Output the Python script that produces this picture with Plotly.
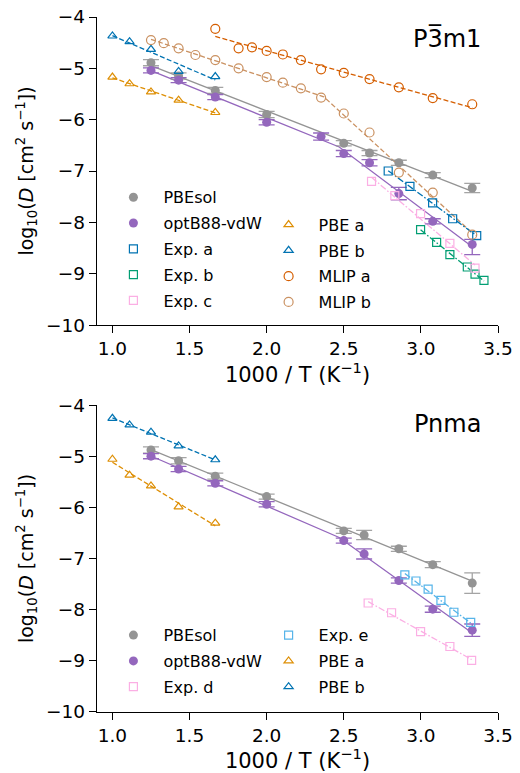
import numpy as np
import plotly.graph_objects as go

# ---------------- data: P-3m1 (top panel) ----------------
pbesol_t_x = [1.25, 1.429, 1.667, 2.0, 2.5, 2.667, 2.857, 3.077, 3.333]
pbesol_t_y = [-4.89, -5.15, -5.43, -5.90, -6.46, -6.65, -6.84, -7.08, -7.33]
pbesol_t_e = [0.06, 0.06, 0.06, 0.06, 0.05, 0.05, 0.05, 0.05, 0.09]

optb_t_x = [1.25, 1.429, 1.667, 2.0, 2.353, 2.5, 2.667, 2.857, 3.077, 3.333]
optb_t_y = [-5.04, -5.23, -5.56, -6.05, -6.33, -6.66, -6.84, -7.44, -7.98, -8.43]
optb_t_eu = [0.05, 0.05, 0.05, 0.05, 0.07, 0.06, 0.06, 0.12, 0.05, 0.10]
optb_t_ed = [0.05, 0.05, 0.05, 0.05, 0.07, 0.06, 0.06, 0.12, 0.05, 0.20]
optb_t_split = 5  # first index of low-temperature regime

pbe_x = [1.0, 1.111, 1.25, 1.429, 1.667]
pbe_a_t_y = [-5.17, -5.30, -5.46, -5.62, -5.86]
pbe_b_t_y = [-4.37, -4.48, -4.63, -5.06, -5.16]

mlip_a_x = [1.667, 1.818, 1.905, 2.0, 2.105, 2.222, 2.353, 2.5, 2.667, 2.857, 3.077, 3.333]
mlip_a_y = [-4.23, -4.61, -4.59, -4.66, -4.73, -4.84, -5.02, -5.09, -5.21, -5.37, -5.58, -5.70]

mlip_b_x = [1.25, 1.333, 1.429, 1.538, 1.667, 1.818, 2.0, 2.105, 2.222, 2.353,
            2.5, 2.667, 2.857, 3.077, 3.333]
mlip_b_y = [-4.45, -4.51, -4.61, -4.74, -4.84, -5.00, -5.17, -5.28, -5.39, -5.57,
            -5.88, -6.25, -7.03, -7.42, -8.24]
mlip_b_split = 9

exp_a_x = [2.788, 2.929, 3.076, 3.206, 3.362]
exp_a_y = [-7.00, -7.30, -7.62, -7.93, -8.26]
exp_b_x = [2.998, 3.102, 3.188, 3.301, 3.351, 3.409]
exp_b_y = [-8.14, -8.39, -8.63, -8.87, -9.01, -9.13]
exp_c_x = [2.680, 2.831, 2.998, 3.188, 3.351]
exp_c_y = [-7.20, -7.48, -7.83, -8.41, -8.89]

# ---------------- data: Pnma (bottom panel) ----------------
pbesol_b_x = [1.25, 1.429, 1.667, 2.0, 2.5, 2.632, 2.857, 3.077, 3.333]
pbesol_b_y = [-4.88, -5.09, -5.39, -5.79, -6.46, -6.54, -6.81, -7.12, -7.48]
pbesol_b_e = [0.06, 0.06, 0.06, 0.05, 0.05, 0.09, 0.05, 0.06, 0.20]

optb_b_x = [1.25, 1.429, 1.667, 2.0, 2.5, 2.632, 2.857, 3.077, 3.333]
optb_b_y = [-5.00, -5.25, -5.53, -5.94, -6.65, -6.91, -7.43, -7.99, -8.40]
optb_b_e = [0.05, 0.05, 0.05, 0.05, 0.05, 0.10, 0.05, 0.06, 0.12]
optb_b_split = 4

pbe_a_b_y = [-5.06, -5.37, -5.58, -5.99, -6.31]
pbe_b_b_y = [-4.26, -4.39, -4.53, -4.80, -5.07]

exp_d_x = [2.658, 2.810, 2.998, 3.188, 3.329]
exp_d_y = [-7.87, -8.06, -8.43, -8.72, -8.99]
exp_e_x = [2.896, 2.968, 3.047, 3.130, 3.214, 3.323]
exp_e_y = [-7.32, -7.44, -7.60, -7.82, -8.05, -8.25]

x_ticks = [1.0, 1.5, 2.0, 2.5, 3.0, 3.5]
y_ticks = [-10, -9, -8, -7, -6, -5, -4]

# ---------------- styles ----------------
GRAY = '#949494'
PURPLE = '#9467bd'
BLUE = '#0173B2'
ORANGE = '#DE8F05'
GREEN = '#029E73'
VERM = '#D55E00'
TAN = '#CA9161'
PINK = '#FBAFE4'
LBLUE = '#56B4E9'
DASH = '5px,2.4px'
DASHDOT = '6.5px,2px,1.6px,2px'
FONT = 'DejaVu Sans'

fig = go.Figure()


def line_tr(xs, ys, color, dash, ax):
    fig.add_trace(go.Scatter(x=xs, y=ys, mode='lines', showlegend=False, hoverinfo='skip',
                             line=dict(color=color, width=1.3, dash=dash),
                             xaxis='x' + ax, yaxis='y' + ax))


def fit1(x, y, color, dash, ax):
    m, b = np.polyfit(x, y, 1)
    xs = np.array([min(x), max(x)])
    line_tr(xs, m * xs + b, color, dash, ax)


def fit2(x, y, split, color, dash, ax, share=False):
    x = np.array(x); y = np.array(y)
    hi = slice(0, split + (1 if share else 0))
    lo = slice(split, len(x))
    m1, b1 = np.polyfit(x[hi], y[hi], 1)
    m2, b2 = np.polyfit(x[lo], y[lo], 1)
    xi = (b2 - b1) / (m1 - m2)
    xs1 = np.array([x[hi].min(), xi])
    xs2 = np.array([xi, x[lo].max()])
    line_tr(np.concatenate([xs1, xs2]),
            np.concatenate([m1 * xs1 + b1, m2 * xs2 + b2]), color, dash, ax)


def pts(x, y, name, symbol, color, ax, legend, size=9, eu=None, ed=None, ecolor=None):
    kw = {}
    if eu is not None:
        kw['error_y'] = dict(type='data', symmetric=False, array=eu,
                             arrayminus=ed if ed is not None else eu,
                             color=ecolor, thickness=1.3, width=8)
    if symbol.endswith('open'):
        mk = dict(symbol=symbol, size=size, color=color, line=dict(color=color, width=1.2))
    else:
        mk = dict(symbol=symbol, size=size, color=color, line=dict(width=0))
    fig.add_trace(go.Scatter(x=x, y=y, mode='markers', name=name, marker=mk,
                             legend=legend, legendgroup=name + ax,
                             xaxis='x' + ax, yaxis='y' + ax, **kw))


# ---------- top panel lines ----------
A = ''
fit1(pbesol_t_x, pbesol_t_y, GRAY, 'solid', A)
fit2(optb_t_x, optb_t_y, optb_t_split, PURPLE, 'solid', A)
fit1(pbe_x, pbe_a_t_y, ORANGE, DASH, A)
fit1(pbe_x, pbe_b_t_y, BLUE, DASH, A)
fit1(mlip_a_x, mlip_a_y, VERM, DASH, A)
fit2(mlip_b_x, mlip_b_y, mlip_b_split, TAN, DASH, A, share=True)
fit1(exp_a_x, exp_a_y, BLUE, DASHDOT, A)
fit1(exp_b_x, exp_b_y, GREEN, DASHDOT, A)
fit1(exp_c_x, exp_c_y, PINK, DASHDOT, A)

# ---------- top panel markers ----------
pts(pbesol_t_x, pbesol_t_y, 'PBEsol', 'circle', GRAY, A, 'legend', eu=pbesol_t_e,
    ecolor='rgba(148,148,148,0.85)')
pts(optb_t_x, optb_t_y, 'optB88-vdW', 'circle', PURPLE, A, 'legend', eu=optb_t_eu,
    ed=optb_t_ed, ecolor=PURPLE)
pts(exp_a_x, exp_a_y, 'Exp. a', 'square-open', BLUE, A, 'legend', size=8)
pts(exp_b_x, exp_b_y, 'Exp. b', 'square-open', GREEN, A, 'legend', size=8)
pts(exp_c_x, exp_c_y, 'Exp. c', 'square-open', PINK, A, 'legend', size=8)
pts(pbe_x, pbe_a_t_y, 'PBE a', 'triangle-up-open', ORANGE, A, 'legend2', size=8)
pts(pbe_x, pbe_b_t_y, 'PBE b', 'triangle-up-open', BLUE, A, 'legend2', size=8)
pts(mlip_a_x, mlip_a_y, 'MLIP a', 'circle-open', VERM, A, 'legend2', size=9)
pts(mlip_b_x, mlip_b_y, 'MLIP b', 'circle-open', TAN, A, 'legend2', size=9)

# ---------- bottom panel lines ----------
B = '2'
fit1(pbesol_b_x, pbesol_b_y, GRAY, 'solid', B)
fit2(optb_b_x, optb_b_y, optb_b_split, PURPLE, 'solid', B, share=True)
fit1(pbe_x, pbe_a_b_y, ORANGE, DASH, B)
fit1(pbe_x, pbe_b_b_y, BLUE, DASH, B)
fit1(exp_d_x, exp_d_y, PINK, DASHDOT, B)
fit1(exp_e_x, exp_e_y, LBLUE, DASHDOT, B)

# ---------- bottom panel markers ----------
pts(pbesol_b_x, pbesol_b_y, 'PBEsol', 'circle', GRAY, B, 'legend3', eu=pbesol_b_e,
    ecolor='rgba(148,148,148,0.85)')
pts(optb_b_x, optb_b_y, 'optB88-vdW', 'circle', PURPLE, B, 'legend3', eu=optb_b_e,
    ecolor=PURPLE)
pts(exp_d_x, exp_d_y, 'Exp. d', 'square-open', PINK, B, 'legend3', size=8)
pts(exp_e_x, exp_e_y, 'Exp. e', 'square-open', LBLUE, B, 'legend4', size=8)
pts(pbe_x, pbe_a_b_y, 'PBE a', 'triangle-up-open', ORANGE, B, 'legend4', size=8)
pts(pbe_x, pbe_b_b_y, 'PBE b', 'triangle-up-open', BLUE, B, 'legend4', size=8)

# ---------- layout ----------
ytitle = 'log<sub>10</sub>(<i>D</i> [cm<sup>2</sup> s<sup>\u22121</sup>])'
xtitle = '1000 / T (K<sup>\u22121</sup>)'

axis_common = dict(showline=True, linecolor='black', linewidth=1.3, ticks='outside',
                   ticklen=7, tickwidth=1.3, tickcolor='black', showgrid=False,
                   zeroline=False, mirror=False, automargin=False,
                   tickfont=dict(size=18.5, family=FONT, color='black'))

xa = dict(axis_common, range=[0.9, 3.5], tickvals=x_ticks, ticktext=[f'{v:.1f}' for v in x_ticks],
          title=dict(text=xtitle, font=dict(size=21, family=FONT, color='black'), standoff=3))
ya = dict(axis_common, range=[-10, -4], tickvals=y_ticks,
          title=dict(text=ytitle, font=dict(size=19, family=FONT, color='black'), standoff=7))

leg_common = dict(bgcolor='rgba(0,0,0,0)', font=dict(size=16, family=FONT, color='black'),
                  xanchor='left', yanchor='top', traceorder='grouped', tracegroupgap=2,
                  itemwidth=50, itemclick=False, itemdoubleclick=False)

fig.update_layout(
    width=520, height=773,
    margin=dict(l=97, r=22, t=17, b=61),
    paper_bgcolor='white', plot_bgcolor='white',
    font=dict(family=FONT, color='black'),
    xaxis=dict(xa, domain=[0, 1], anchor='y'),
    yaxis=dict(ya, domain=[0.5568, 1], anchor='x'),
    xaxis2=dict(xa, domain=[0, 1], anchor='y2'),
    yaxis2=dict(ya, domain=[0, 0.4417], anchor='x2'),
    legend=dict(leg_common, x=0.016, y=0.765),
    legend2=dict(leg_common, x=0.403, y=0.7257),
    legend3=dict(leg_common, x=0.016, y=0.135),
    legend4=dict(leg_common, x=0.403, y=0.135),
    showlegend=True,
    annotations=[
        dict(text='P3\u0305m1', xref='paper', yref='paper', x=0.963, y=0.969,
             xanchor='right', yanchor='middle', showarrow=False,
             font=dict(size=24, family=FONT, color='black')),
        dict(text='Pnma', xref='paper', yref='paper', x=0.963, y=0.4137,
             xanchor='right', yanchor='middle', showarrow=False,
             font=dict(size=24, family=FONT, color='black')),
    ],
)

fig.write_html('out.html')
